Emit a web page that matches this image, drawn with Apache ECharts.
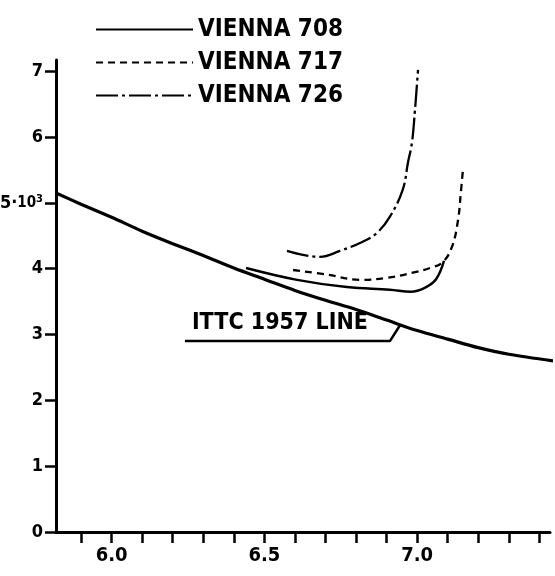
<!DOCTYPE html>
<html>
<head>
<meta charset="utf-8">
<script src="https://cdn.jsdelivr.net/npm/echarts@6/dist/echarts.min.js"></script>
<style>html,body{margin:0;padding:0;background:#fff}#c{width:555px;height:576px}</style>
</head>
<body>
<div id="c"></div>
<script>
// x: log10(Rn), y: CF (×10^-3)
var xTicks = [5.9, 6.0, 6.1, 6.2, 6.3, 6.4, 6.5, 6.6, 6.7, 6.8, 6.9, 7.0, 7.1, 7.2, 7.3, 7.4];
var xLabels = [6.0, 6.5, 7.0];
var yTicks = [0, 1, 2, 3, 4, 5, 6, 7];

var ittc = [[5.818,5.15],[5.9,4.98],[6.0,4.78],[6.1,4.57],[6.2,4.38],[6.3,4.20],[6.4,4.01],[6.5,3.84],[6.6,3.67],[6.7,3.52],[6.8,3.38],[6.9,3.22],[7.0,3.06],[7.1,2.93],[7.2,2.80],[7.3,2.70],[7.445,2.60]];
var vienna708 = [[6.440,4.01],[6.607,3.83],[6.770,3.72],[6.911,3.68],[6.980,3.65],[7.025,3.71],[7.062,3.84],[7.088,4.12]];
var vienna717 = [[6.594,3.98],[6.705,3.91],[6.813,3.83],[6.901,3.86],[6.986,3.94],[7.042,4.01],[7.084,4.10],[7.114,4.33],[7.134,4.74],[7.143,5.15],[7.150,5.50]];
var vienna726 = [[6.574,4.27],[6.626,4.21],[6.682,4.18],[6.747,4.27],[6.822,4.41],[6.868,4.54],[6.911,4.79],[6.953,5.20],[6.970,5.61],[6.983,5.91],[6.993,6.41],[7.003,7.02]];
var ittcLeader = [[6.240,2.90],[6.911,2.90],[6.944,3.14]];
var ittcLabel = 'ITTC 1957 LINE';

var font = 'DejaVu Sans Condensed';
var chart = echarts.init(document.getElementById('c'), null, {renderer: 'canvas'});
chart.setOption({
  backgroundColor: '#fff',
  animation: false,
  legend: {
    orient: 'vertical', left: 90, top: 12, itemWidth: 97, itemHeight: 10, itemGap: 8,
    data: ['VIENNA 708', 'VIENNA 717', 'VIENNA 726'],
    itemStyle: {opacity: 0},
    textStyle: {color: '#000', fontFamily: font, fontWeight: 'bold', fontSize: 24, lineHeight: 25},
    inactiveColor: '#000'
  },
  grid: {left: 56, right: 5, top: 60, bottom: 44, containLabel: false, outerBoundsMode: 'none'},
  xAxis: {
    type: 'value', min: 5.818, max: 7.435,
    axisLine: {lineStyle: {color: '#000', width: 3}},
    axisTick: {show: true, length: 11, lineStyle: {color: '#000', width: 2.5}, customValues: xTicks},
    axisLabel: {color: '#000', fontFamily: font, fontWeight: 'bold', fontSize: 20, margin: 14, customValues: xLabels,
      formatter: function (v) { return v.toFixed(1); }},
    splitLine: {show: false}
  },
  yAxis: {
    type: 'value', min: 0, max: 7.17,
    axisLine: {show: true, lineStyle: {color: '#000', width: 3}},
    axisTick: {show: true, length: 11, lineStyle: {color: '#000', width: 2.5}, customValues: yTicks},
    axisLabel: {color: '#000', fontFamily: font, fontWeight: 'bold', fontSize: 18, margin: 13, customValues: yTicks,
      formatter: function (v) { return v === 5 ? '{a|5·}{b|10}{s|3}' : String(v); },
      rich: {a: {fontFamily: font, fontWeight: 'bold', fontSize: 18, color: '#000'},
             b: {fontFamily: font, fontWeight: 'bold', fontSize: 15, color: '#000'},
             s: {fontFamily: font, fontWeight: 'bold', fontSize: 11, color: '#000', verticalAlign: 'top', padding: [0, 0, 8, 0]}}},
    splitLine: {show: false}
  },
  series: [
    {name: 'ITTC', type: 'line', data: ittc, symbol: 'none', smooth: 0.3, clip: false,
     lineStyle: {color: '#000', width: 3.2}},
    {name: 'leader', type: 'line', data: ittcLeader, symbol: 'none', silent: true,
     lineStyle: {color: '#000', width: 2.5}},
    {name: 'VIENNA 708', type: 'line', data: vienna708, symbol: 'none', smooth: 0.4,
     itemStyle: {color: '#000'}, lineStyle: {color: '#000', width: 2.5, type: 'solid'}},
    {name: 'VIENNA 717', type: 'line', data: vienna717, symbol: 'none', smooth: 0.4,
     itemStyle: {color: '#000'}, lineStyle: {color: '#000', width: 2.3, type: [7, 5]}},
    {name: 'VIENNA 726', type: 'line', data: vienna726, symbol: 'none', smooth: 0.4,
     itemStyle: {color: '#000'}, lineStyle: {color: '#000', width: 2.3, type: [22, 4, 3, 4]}}
  ]
});
var p = chart.convertToPixel({gridIndex: 0}, ittcLeader[0]);
chart.setOption({
  graphic: [{type: 'text', left: p[0] + 7, top: p[1] - 30,
    style: {text: ittcLabel, fill: '#000', font: 'bold 23px "' + font + '"'}}]
});
</script>
</body>
</html>
